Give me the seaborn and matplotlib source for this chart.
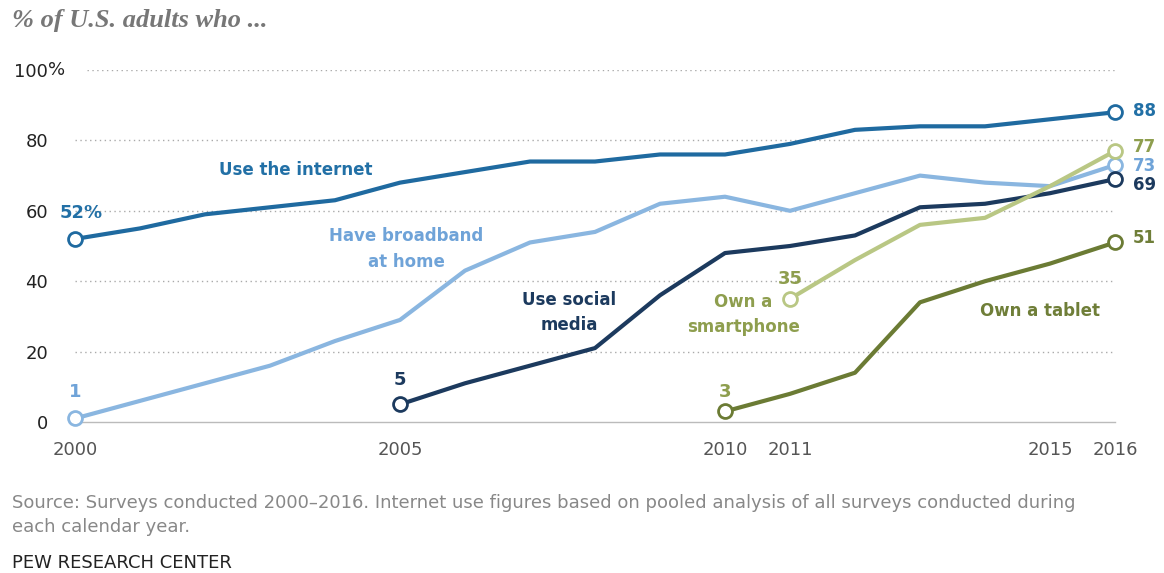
import numpy as np
import pandas as pd
import matplotlib
matplotlib.use('Agg')
import matplotlib.pyplot as plt
import seaborn as sns

# Datos (% de adultos en EE.UU.)
years_internet = list(range(2000, 2017))
internet = [52, 55, 59, 61, 63, 68, 71, 74, 74, 76, 76, 79, 83, 84, 84, 86, 88]

years_broadband = list(range(2000, 2017))
broadband = [1, 6, 11, 16, 23, 29, 43, 51, 54, 62, 64, 60, 65, 70, 68, 67, 73]

years_social = list(range(2005, 2017))
social = [5, 11, 16, 21, 36, 48, 50, 53, 61, 62, 65, 69]

years_smartphone = list(range(2011, 2017))
smartphone = [35, 46, 56, 58, 67, 77]

years_tablet = list(range(2010, 2017))
tablet = [3, 8, 14, 34, 40, 45, 51]

year_ticks = [2000, 2005, 2010, 2011, 2015, 2016]
y_ticks = [0, 20, 40, 60, 80, 100]

series = [
    ('Use the internet', years_internet, internet, '#1f6aa0', '#2270a6'),
    ('Have broadband at home', years_broadband, broadband, '#8ab6e0', '#6fa3d8'),
    ('Use social media', years_social, social, '#1c3a5e', '#1c3a5e'),
    ('Own a smartphone', years_smartphone, smartphone, '#b9c784', '#8e9e4e'),
    ('Own a tablet', years_tablet, tablet, '#6b7b34', '#6f7e38'),
]

df = pd.concat([pd.DataFrame({'year': x, 'pct': y, 'serie': name})
                for name, x, y, _, _ in series], ignore_index=True)
palette = {name: lc for name, _, _, lc, _ in series}

sns.set_style('white')
plt.rcParams['font.family'] = ['DejaVu Sans']

W, H = 1164, 573
fig = plt.figure(figsize=(W / 100, H / 100), dpi=100)
ax = fig.add_axes([75 / W, 1 - 422 / H, 1040 / W, 352 / H])

sns.lineplot(data=df, x='year', y='pct', hue='serie', palette=palette,
             linewidth=3, legend=False, ax=ax, clip_on=False)

# circulos abiertos en los extremos
for name, x, y, lc, tc in series:
    ax.plot([x[0], x[-1]], [y[0], y[-1]], 'o', ms=10, mfc='white', mec=lc,
            mew=2, clip_on=False, zorder=5)

ax.set_xlim(2000, 2016)
ax.set_ylim(0, 100)
ax.set_xticks(range(2000, 2017))
ax.set_xticklabels([str(v) if v in year_ticks else '' for v in range(2000, 2017)])
ax.set_yticks(y_ticks)
ax.set_yticklabels(['0', '20', '40', '60', '80', '100'])
ax.tick_params(axis='x', length=10, width=1, color='#bbbbbb', pad=4,
               labelsize=13, labelcolor='#555555')
ax.tick_params(axis='y', length=0, pad=19.5, labelsize=13, labelcolor='#222222')
ax.text(-0.026, 100, '%', transform=ax.get_yaxis_transform(), ha='left',
        va='center', fontsize=13, color='#222222')
ax.set_xlabel('')
ax.set_ylabel('')

for s in ['top', 'right', 'left']:
    ax.spines[s].set_visible(False)
ax.spines['bottom'].set_color('#bbbbbb')
ax.spines['bottom'].set_linewidth(1)
for v in y_ticks[1:]:
    ax.axhline(v, xmin=0.012 if v == 100 else 0, color='#aaaaaa', lw=1,
               ls=(0, (1, 2.5)), zorder=0)

# etiquetas de series
lab = dict(fontsize=12, fontweight='bold', ha='center', va='center')
ax.text(2003.4, 71.5, 'Use the internet', color='#2270a6', **lab)
ax.text(2005.1, 49.2, 'Have broadband\nat home', color='#6fa3d8', linespacing=1.55, **lab)
ax.text(2007.6, 31.2, 'Use social\nmedia', color='#1c3a5e', linespacing=1.5, **lab)
ax.text(2010.28, 30.6, 'Own a\nsmartphone', color='#8e9e4e', linespacing=1.5, **lab)
ax.text(2014.85, 31.5, 'Own a tablet', color='#6f7e38', **lab)

# valores inicial y final
num = dict(fontsize=13, fontweight='bold', va='center')
ax.text(2000.1, 52 + 7.5, '52%', color='#2270a6', ha='center', **num)
ax.text(2000, 1 + 7.5, '1', color='#6fa3d8', ha='center', **num)
ax.text(2005, 5 + 7, '5', color='#1c3a5e', ha='center', **num)
ax.text(2010, 3 + 5.5, '3', color='#8e9e4e', ha='center', **num)
ax.text(2011, 35 + 5.5, '35', color='#8e9e4e', ha='center', **num)
end = dict(fontsize=12, fontweight='bold', va='center', ha='left')
for pos, val, color in [(88.3, 88, '#2270a6'), (78.2, 77, '#8e9e4e'), (72.8, 73, '#6fa3d8'),
                        (67.2, 69, '#1c3a5e'), (52.3, 51, '#6f7e38')]:
    ax.text(2016.27, pos, str(val), color=color, **end)

fig.text(12 / W, 1 - 20 / H, '% of U.S. adults who ...', family='Liberation Serif',
         style='italic', fontweight='bold', fontsize=19, color='#777777', va='center')
fig.text(12 / W, 1 - 515 / H,
         'Source: Surveys conducted 2000\u20132016. Internet use figures based on pooled '
         'analysis of all surveys conducted during\neach calendar year.',
         fontsize=13, color='#888888', va='center', linespacing=1.45)
fig.text(12 / W, 1 - 563 / H, 'PEW RESEARCH CENTER', fontsize=13,
         color='#222222', va='center')

fig.savefig('out.png', dpi=100)
